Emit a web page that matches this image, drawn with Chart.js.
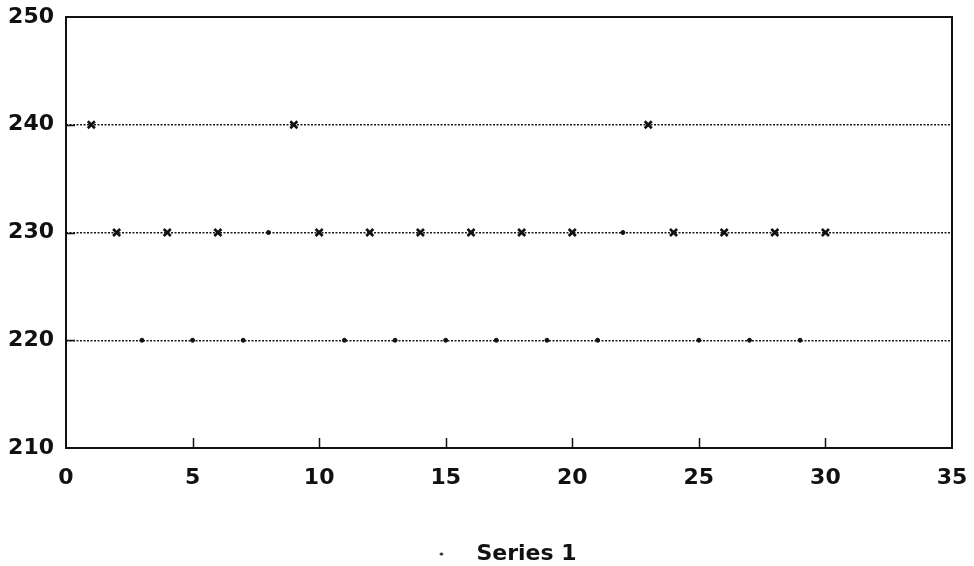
<!DOCTYPE html>
<html>
<head>
<meta charset="utf-8">
<script src="https://cdn.jsdelivr.net/npm/chart.js@4.4.1/dist/chart.umd.min.js"></script>
<style>
  html, body { margin: 0; padding: 0; background: #fff; }
  #chart { display: block; }
</style>
</head>
<body>
<canvas id="chart" width="974" height="566"></canvas>
<script>
// data
const xValues = [1, 2, 3, 4, 5, 6, 7, 8, 9, 10, 11, 12, 13, 14, 15,
                 16, 17, 18, 19, 20, 21, 22, 23, 24, 25, 26, 27, 28, 29, 30];
const yValues = [240, 230, 220, 230, 220, 230, 220, 230, 240, 230, 220, 230, 220, 230, 220,
                 230, 220, 230, 220, 230, 220, 230, 240, 230, 220, 230, 220, 230, 220, 230];
// x positions where the mark is printed as a cross instead of a dot
const crossedX = [1, 2, 4, 6, 9, 10, 12, 14, 16, 18, 20, 23, 24, 26, 28, 30];
const xTicks = [0, 5, 10, 15, 20, 25, 30, 35];
const yTicks = [210, 220, 230, 240, 250];
const seriesName = 'Series 1';

const FAMILY = 'DejaVu Sans';

const points = xValues.map((x, i) => ({ x: x, y: yValues[i] }));

// legend marker: small dot with some blank room so the text sits where it does in the scan
function legendMarker() {
    const c = document.createElement('canvas');
    c.width = 90;
    c.height = 6;
    const g = c.getContext('2d');
    g.fillStyle = '#111';
    g.beginPath();
    g.arc(66, 3, 1.6, 0, Math.PI * 2);
    g.fill();
    return c;
}

// box round the plot and the short inward tick marks
const framePlugin = {
    id: 'frame',
    afterDatasetsDraw(chart) {
        const { ctx, chartArea: a, scales } = chart;
        ctx.save();
        ctx.strokeStyle = '#111';
        ctx.lineWidth = 2;
        ctx.strokeRect(a.left, a.top, a.right - a.left, a.bottom - a.top);
        ctx.lineWidth = 1.5;
        ctx.beginPath();
        xTicks.slice(1, -1).forEach(v => {
            const px = Math.round(scales.x.getPixelForValue(v)) + 0.5;
            ctx.moveTo(px, a.bottom);
            ctx.lineTo(px, a.bottom - 10);
        });
        yTicks.slice(1, -1).forEach(v => {
            const py = Math.round(scales.y.getPixelForValue(v)) + 0.5;
            ctx.moveTo(a.left, py);
            ctx.lineTo(a.left + 9, py);
        });
        ctx.stroke();
        ctx.restore();
    }
};

const ctx = document.getElementById('chart').getContext('2d');
new Chart(ctx, {
    type: 'scatter',
    data: {
        datasets: [{
            label: seriesName,
            data: points,
            showLine: false,
            pointStyle: points.map(p => crossedX.includes(p.x) ? 'crossRot' : 'circle'),
            pointRadius: points.map(p => crossedX.includes(p.x) ? 5 : 2),
            pointBorderWidth: points.map(p => crossedX.includes(p.x) ? 2.6 : 1),
            borderColor: '#111',
            backgroundColor: '#111'
        }]
    },
    options: {
        responsive: false,
        animation: false,
        layout: { padding: { top: 17, right: 22, bottom: -9, left: 0 } },
        scales: {
            x: {
                type: 'linear',
                min: 0,
                max: 35,
                afterBuildTicks: s => { s.ticks = xTicks.map(v => ({ value: v })); },
                afterFit: s => { s.height = 95; },
                grid: { display: false, drawTicks: false },
                border: { display: false },
                // tall line height pushes the labels down without widening the right margin
                ticks: { color: '#111', font: { family: FAMILY, weight: 'bold', size: 22, lineHeight: 2.73 }, padding: 0, maxRotation: 0 }
            },
            y: {
                type: 'linear',
                min: 210,
                max: 250,
                afterBuildTicks: s => { s.ticks = yTicks.map(v => ({ value: v })); },
                afterFit: s => { s.width = 66; },
                grid: {
                    drawTicks: false,
                    color: c => (c.tick && (c.tick.value === 220 || c.tick.value === 230 || c.tick.value === 240)) ? '#1a1a1a' : 'rgba(0,0,0,0)',
                    lineWidth: 1.4
                },
                border: { display: false, dash: [2, 1.5] },
                ticks: { color: '#111', font: { family: FAMILY, weight: 'bold', size: 22, lineHeight: 0.45 }, padding: 12 }
            }
        },
        plugins: {
            legend: {
                position: 'bottom',
                labels: {
                    color: '#111',
                    font: { family: FAMILY, weight: 'bold', size: 22, lineHeight: 1 },
                    usePointStyle: true,
                    pointStyle: legendMarker(),
                    pointStyleWidth: 90,
                    padding: 0
                }
            },
            tooltip: { enabled: false }
        }
    },
    plugins: [framePlugin]
});
</script>
</body>
</html>
